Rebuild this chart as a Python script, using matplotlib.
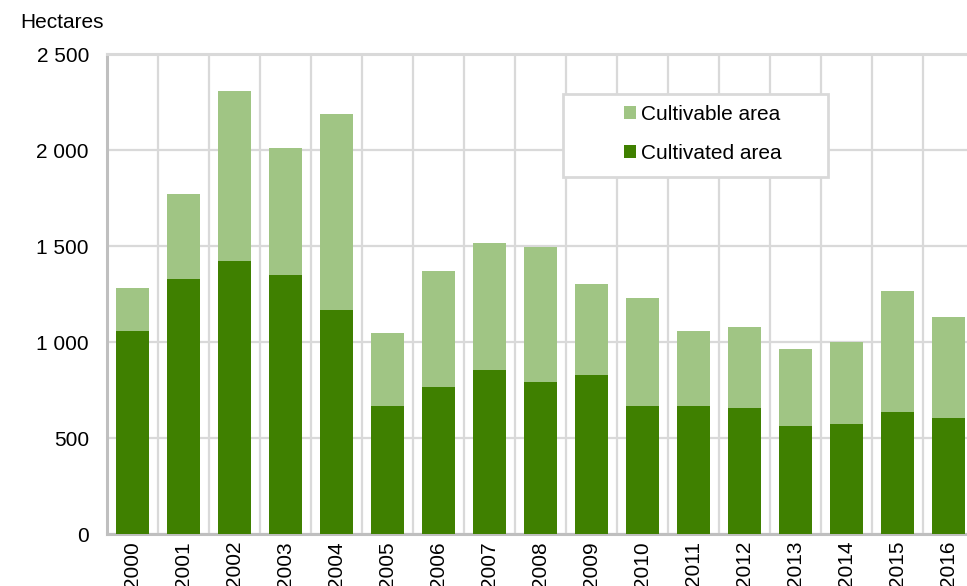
import matplotlib.pyplot as plt
import matplotlib.patches as mpatches
import numpy as np
from matplotlib.ticker import FuncFormatter, MultipleLocator

plt.rcParams['font.family'] = ['Liberation Sans', 'DejaVu Sans']

years = [str(y) for y in range(2000, 2017)]
cultivable = [1281, 1771, 2307, 2010, 2187, 1047, 1370, 1516, 1495, 1302,
              1229, 1057, 1078, 964, 1000, 1266, 1130]
cultivated = [1057, 1328, 1422, 1349, 1167, 667, 766, 854, 792, 828,
              667, 667, 656, 563, 573, 635, 604]

dark = '#3f8000'
light = '#a0c584'
grid_c = '#d9d9d9'
spine_c = '#bfbfbf'
fs = 15

W, H = 967, 586
fig = plt.figure(figsize=(W / 100, H / 100), dpi=100)
ax = fig.add_axes([107 / W, (H - 534) / H, (974 - 107) / W, (534 - 54) / H])

x = np.arange(len(years))
ax.bar(x, cultivable, width=0.66, color=light, zorder=2, label='Cultivable area')
ax.bar(x, cultivated, width=0.66, color=dark, zorder=3, label='Cultivated area')

ax.set_xlim(-0.5, len(years) - 0.5)
ax.set_ylim(0, 2500)
ax.yaxis.set_major_locator(MultipleLocator(500))
ax.yaxis.set_major_formatter(FuncFormatter(lambda v, p: f'{int(v):,}'.replace(',', ' ')))
ax.set_xticks(x)
ax.set_xticklabels(years, rotation=90)
ax.set_xticks(np.arange(-0.5, len(years)), minor=True)
ax.grid(axis='y', color=grid_c, lw=1.6, zorder=0)
ax.grid(axis='x', which='minor', color=grid_c, lw=1.6, zorder=0)
ax.tick_params(axis='both', which='both', length=0, labelsize=fs, colors='black')
ax.tick_params(axis='y', pad=13)
ax.tick_params(axis='x', pad=5)

ax.spines['right'].set_visible(False)
for s in ['left', 'bottom', 'top']:
    ax.spines[s].set_color(spine_c)
    ax.spines[s].set_linewidth(2.2)
ax.spines['top'].set_color(grid_c)

fig.text(20 / W, 1 - 22 / H, 'Hectares', fontsize=fs, va='center', ha='left')

# legend box
box = mpatches.Rectangle((563 / W, 1 - 177 / H), (828 - 563) / W, (177 - 94) / H,
                         transform=fig.transFigure, facecolor='white',
                         edgecolor=grid_c, lw=2, zorder=5)
fig.patches.append(box)
h, l = ax.get_legend_handles_labels()
leg = fig.legend(h, l, loc='center left', bbox_to_anchor=(614 / W, 1 - 134 / H),
                 frameon=False, fontsize=fs, handlelength=0.55, handleheight=0.55,
                 handletextpad=0.25, labelspacing=0.95, borderpad=0)
leg.set_zorder(6)

fig.savefig('out.png', dpi=100)
